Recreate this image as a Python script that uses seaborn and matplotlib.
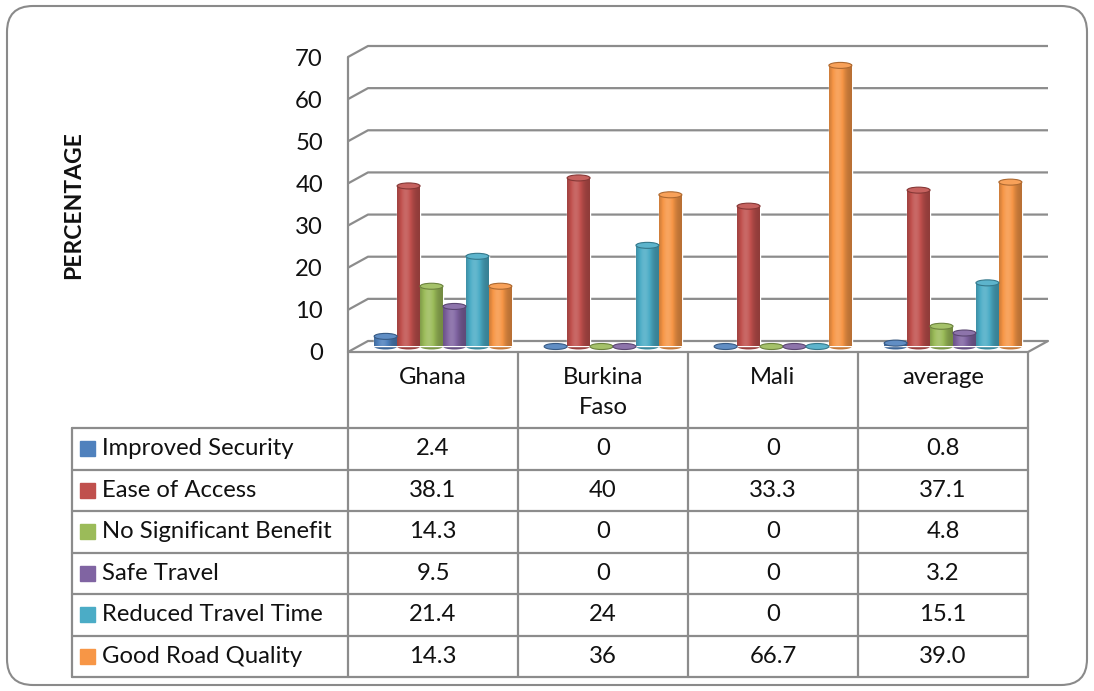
"""
3D-style clustered bar chart with data table (Excel look) - perceived benefits of roads
"""
import numpy as np
import pandas as pd
import seaborn as sns
import matplotlib
matplotlib.use("Agg")
import matplotlib.pyplot as plt
from matplotlib.patches import Ellipse, FancyBboxPatch, Rectangle
from matplotlib.colors import to_rgb

sns.set_style('white')
plt.rcParams['font.family'] = ['Lato', 'DejaVu Sans']

# Data
regions = ["Ghana", "Burkina Faso", "Mali", "average"]
responses = ["Improved Security", "Ease of Access", "No Significant Benefit",
             "Safe Travel", "Reduced Travel Time", "Good Road Quality"]
improved_security = ["2.4", "0", "0", "0.8"]
ease_of_access = ["38.1", "40", "33.3", "37.1"]
no_significant_benefit = ["14.3", "0", "0", "4.8"]
safe_travel = ["9.5", "0", "0", "3.2"]
reduced_travel_time = ["21.4", "24", "0", "15.1"]
good_road_quality = ["14.3", "36", "66.7", "39.0"]
y_ticks = [0, 10, 20, 30, 40, 50, 60, 70]

table_values = [improved_security, ease_of_access, no_significant_benefit,
                safe_travel, reduced_travel_time, good_road_quality]
colors = ['#4F81BD', '#C0504D', '#9BBB59', '#8064A2', '#4BACC6', '#F79646']

rows = []
for resp, vals in zip(responses, table_values):
    for reg, v in zip(regions, vals):
        rows.append({"region": reg, "response": resp, "value": float(v)})
df = pd.DataFrame(rows)

# Layout in pixels
W, H = 1094, 691
AX_L, AX_R = 348, 1028
Y0_PX, YTOP_PX = 352, 57
DEPTH_X, DEPTH_Y = 20, 11
FS = 17.2
GRID_C = '#8c8c8c'

fig = plt.figure(figsize=(W / 100, H / 100), dpi=100)
bg = fig.add_axes([0, 0, 1, 1])
bg.set_xlim(0, W)
bg.set_ylim(H, 0)
bg.axis('off')

ax = fig.add_axes([AX_L / W, 1 - Y0_PX / H, (AX_R - AX_L) / W, (Y0_PX - YTOP_PX) / H])
ax.patch.set_alpha(0)

sns.barplot(data=df, x="region", y="value", hue="response", order=regions,
            hue_order=responses, palette=colors, saturation=1, width=0.81,
            errorbar=None, legend=False, ax=ax, zorder=3)

ymax = y_ticks[-1]
px_per_x = (AX_R - AX_L) / len(regions)
px_per_y = (Y0_PX - YTOP_PX) / ymax
dx = DEPTH_X / px_per_x
dy = DEPTH_Y / px_per_y
x0, x1 = -0.5, len(regions) - 0.5

# walls and floor
for v in y_ticks:
    ax.plot([x0, x0 + dx, x1 + dx], [v, v + dy, v + dy], color=GRID_C, lw=1.6,
            clip_on=False, zorder=1, solid_capstyle='butt')
ax.plot([x0, x0], [0, ymax], color=GRID_C, lw=1.6, clip_on=False, zorder=1)
ax.plot([x0, x1, x1 + dx], [0, 0, dy], color=GRID_C, lw=1.6, clip_on=False, zorder=1)


def shade(c, f):
    c = np.array(to_rgb(c))
    if f >= 1:
        return np.clip(c + (1 - c) * (f - 1), 0, 1)
    return c * f


t = np.linspace(0, 1, 48)
prof = 0.74 + 0.4 * np.exp(-((t - 0.38) / 0.32) ** 2)
cap_h = 6 / px_per_y

# cylinders: bars sit at mid depth
for p in list(ax.patches):
    p.set_x(p.get_x() + dx / 2)
    p.set_y(dy / 2)
    x, w, h = p.get_x(), p.get_width(), p.get_height()
    base = p.get_facecolor()[:3]
    cx = x + w / 2
    if h > 0:
        img = np.array([[shade(base, f) for f in prof]])
        ax.imshow(img, extent=(x, x + w, dy / 2, dy / 2 + h), aspect='auto',
                  zorder=3.1, interpolation='bilinear')
        ax.add_patch(Ellipse((cx, dy / 2), w, cap_h, fc=shade(base, 0.8), ec='none', zorder=2.9))
    ax.add_patch(Ellipse((cx, dy / 2 + h), w, cap_h, fc=shade(base, 1.1),
                         ec=shade(base, 0.7), lw=0.8, zorder=3.2))

ax.set_xlim(x0, x1)
ax.set_ylim(0, ymax)
ax.set_yticks(y_ticks)
ax.set_xticks([])
ax.set_xlabel('')
ax.set_ylabel('')
ax.tick_params(axis='y', length=0, pad=18, labelsize=FS, labelcolor='#111111')
for s in ax.spines.values():
    s.set_visible(False)

# axis title
bg.text(74, 205, 'PERCENTAGE', rotation=90, ha='center', va='center',
        fontsize=16.5, fontweight='bold', color='#111111')

# data table
TAB_L = 72
row_lines = [428, 469.5, 511, 552.5, 594, 635.5, 677]
col_lines = [AX_L + px_per_x * i for i in range(len(regions) + 1)]
for xc in col_lines:
    bg.plot([xc, xc], [Y0_PX, row_lines[-1]], color=GRID_C, lw=1.6)
bg.plot([TAB_L, TAB_L], [row_lines[0], row_lines[-1]], color=GRID_C, lw=1.6)
for yr in row_lines:
    bg.plot([TAB_L, col_lines[-1]], [yr, yr], color=GRID_C, lw=1.6)

for i, reg in enumerate(regions):
    bg.text((col_lines[i] + col_lines[i + 1]) / 2, 367, reg.replace(' ', '\n'),
            ha='center', va='top', fontsize=FS, linespacing=1.5, color='#111111')

for r, (resp, vals) in enumerate(zip(responses, table_values)):
    yc = (row_lines[r] + row_lines[r + 1]) / 2
    bg.add_patch(Rectangle((80, yc - 7.5), 15, 15, color=colors[r]))
    bg.text(102, yc, resp, ha='left', va='center', fontsize=FS, color='#111111')
    for i, v in enumerate(vals):
        bg.text((col_lines[i] + col_lines[i + 1]) / 2, yc, v, ha='center',
                va='center', fontsize=FS, color='#111111')

# rounded chart border
bg.add_patch(FancyBboxPatch((7, 6), W - 14, H - 12,
                            boxstyle="round,pad=0,rounding_size=26",
                            ec='#8a8a8a', fc='none', lw=1.5))

plt.savefig('out.png', dpi=100)
